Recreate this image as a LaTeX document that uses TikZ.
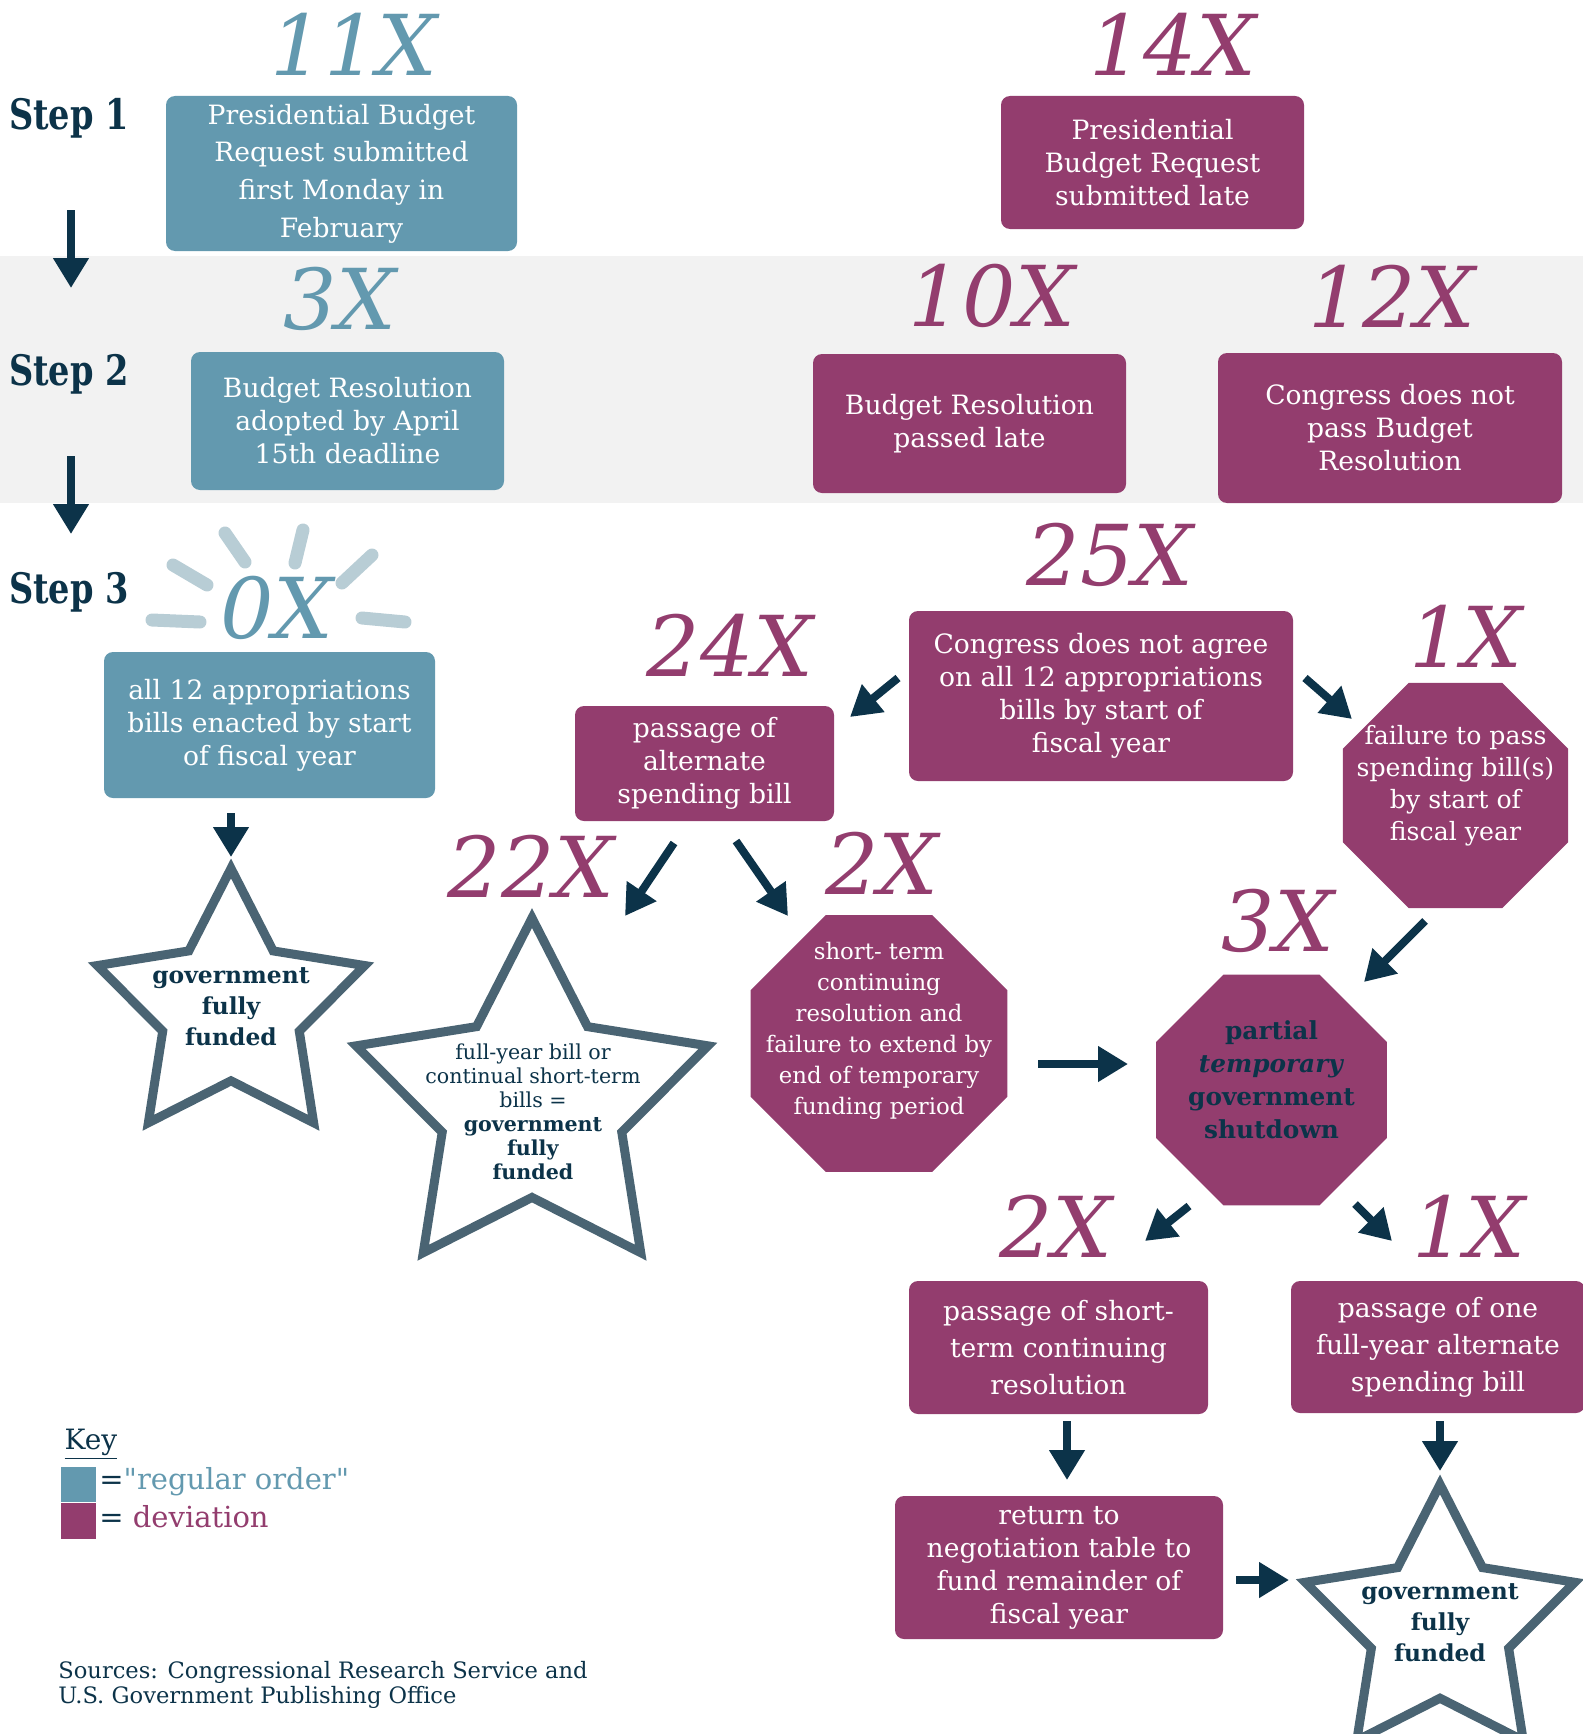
\documentclass[tikz,border=0pt]{standalone}
\usepackage{fontspec}
\setmainfont{DejaVu Serif}
\newfontfamily\condserif[FakeStretch=0.8]{DejaVu Serif}
\usetikzlibrary{arrows.meta,shapes.geometric}
\definecolor{regblue}{HTML}{6399AF}
\definecolor{devpurple}{HTML}{933D6E}
\definecolor{navy}{HTML}{0C3349}
\definecolor{starcol}{HTML}{4A6473}
\definecolor{bandgrey}{HTML}{F2F2F2}
\definecolor{raycol}{HTML}{B8CDD5}
\begin{document}
\begin{tikzpicture}[x=0.5pt,y=-0.5pt,
  box/.style={rectangle, rounded corners=4.5pt, text=white, align=center, inner sep=0pt, font=\fontsize{13.3}{16.5}\selectfont},
  bluebox/.style={box, fill=regblue},
  purplebox/.style={box, fill=devpurple},
  count/.style={font=\fontsize{42}{42}\selectfont\itshape, inner sep=0pt},
  bluecount/.style={count, text=regblue},
  purplecount/.style={count, text=devpurple},
  steplabel/.style={font=\condserif\bfseries\fontsize{21}{21}\selectfont, text=navy, inner sep=0pt},
  arr/.style={draw=navy, line width=4pt, -{Triangle[length=15pt,width=17pt]}},
  octa/.style={regular polygon, regular polygon sides=8, fill=devpurple, inner sep=0pt},
  octtext/.style={align=center, inner sep=0pt, text=white},
  starpath/.style={draw=starcol, line width=4.5pt, fill=white},
  startext/.style={align=center, text=navy, inner sep=0pt},
  rayline/.style={draw=raycol, line width=6.5pt, line cap=round},
]
\useasboundingbox (0,0) rectangle (1583,1734);
\clip (0,0) rectangle (1583,1734);
\fill[bandgrey] (0,255.5) rectangle (1583,503);

% step labels
\node[steplabel] (s1) at (69,118) {Step 1};
\node[steplabel] (s2) at (69,374) {Step 2};
\node[steplabel] (s3) at (69,592) {Step 3};
\coordinate (a1s) at (71,210); \coordinate (a1e) at (71,288);
\coordinate (a2s) at (71,456); \coordinate (a2e) at (71,534);
\draw[arr] (a1s) -- (a1e);
\draw[arr] (a2s) -- (a2e);

% step 1
\node[bluecount] (c11) at (354,44) {11X};
\node[bluebox, minimum width=175.5pt, minimum height=77.5pt, font=\fontsize{13.3}{18.8}\selectfont] (b1) at (341.5,173.5) {Presidential Budget\\Request submitted\\first Monday in\\February};
\node[purplecount] (c14) at (1173,44) {14X};
\node[purplebox, minimum width=151.5pt, minimum height=66.5pt] (b14) at (1152.5,162.5) {Presidential\\Budget Request\\submitted late};

% step 2
\node[bluecount] (c3) at (340,299) {3X};
\node[bluebox, minimum width=156.5pt, minimum height=69pt] (b3) at (347.5,421) {Budget Resolution\\adopted by April\\15th deadline};
\node[purplecount] (c10) at (992,296) {10X};
\node[purplebox, minimum width=156.5pt, minimum height=69.5pt] (b10) at (969.5,423.5) {Budget Resolution\\passed late};
\node[purplecount] (c12) at (1392,296) {12X};
\node[purplebox, minimum width=172pt, minimum height=75pt] (b12) at (1390,428) {Congress does not\\pass Budget\\Resolution};

% step 3 regular
\draw[rayline] (152,620) -- (200,622);
\draw[rayline] (173,565) -- (207,585);
\draw[rayline] (225,533) -- (245,562);
\draw[rayline] (303,530) -- (295,563);
\draw[rayline] (372,555) -- (342,583);
\draw[rayline] (362,618) -- (405,622);
\node[bluecount] (c0) at (277,608) {0X};
\node[bluebox, minimum width=165.5pt, minimum height=73pt] (b0) at (269.5,725) {all 12 appropriations\\bills enacted by start\\of fiscal year};
\begin{scope}[shift={(231,1009)}]
\draw[starpath] (90:70.3pt) \foreach \i in {1,...,9} {-- ({90+36*\i}:{mod(\i,2)==0 ? 70.3pt : 35.9pt})} -- cycle;
\end{scope}
\node[startext, font=\bfseries\fontsize{11.7}{15.5}\selectfont] (st1) at (231,1007) {government\\fully\\funded};
\coordinate (a3s) at (231,813); \coordinate (a3e) at (231,857);
\draw[arr] (a3s) -- (a3e);

% 25X branch
\node[purplecount] (c25) at (1110,555) {25X};
\node[purplebox, minimum width=192pt, minimum height=85pt] (b25) at (1101,696) {Congress does not agree\\on all 12 appropriations\\bills by start of\\fiscal year};
\node[purplecount] (c24) at (730,645) {24X};
\node[purplebox, minimum width=129.5pt, minimum height=57.5pt] (b24) at (704.5,763.5) {passage of\\alternate\\spending bill};
\node[purplecount] (c1a) at (1466,636) {1X};
\node[octa, minimum size=122pt] (o1) at (1455.5,795.5) {};
\node[octtext, font=\fontsize{12.6}{16}\selectfont] (o1t) at (1455.5,786) {failure to pass\\spending bill(s)\\by start of\\fiscal year};
\coordinate (a4s) at (898,678); \coordinate (a4e) at (850,717);
\coordinate (a5s) at (1305,678); \coordinate (a5e) at (1352,719);
\draw[arr] (a4s) -- (a4e);
\draw[arr] (a5s) -- (a5e);

\node[purplecount] (c22) at (531,866) {22X};
\node[purplecount] (c2a) at (882,863) {2X};
\coordinate (a6s) at (674,843); \coordinate (a6e) at (625,916);
\coordinate (a7s) at (736,841); \coordinate (a7e) at (788,916);
\draw[arr] (a6s) -- (a6e);
\draw[arr] (a7s) -- (a7e);

\begin{scope}[shift={(532,1103)}]
\draw[starpath] (90:92.5pt) \foreach \i in {1,...,9} {-- ({90+36*\i}:{mod(\i,2)==0 ? 92.5pt : 47.2pt})} -- cycle;
\end{scope}
\node[startext, font=\fontsize{10.3}{12}\selectfont] (st2) at (533,1112) {full-year bill or\\continual short-term\\bills =\\\textbf{government}\\\textbf{fully}\\\textbf{funded}};

\node[octa, minimum size=139pt] (o2) at (879,1043.5) {};
\node[octtext, font=\fontsize{11.4}{15.5}\selectfont] (o2t) at (879,1031) {short- term\\continuing\\resolution and\\failure to extend by\\end of temporary\\funding period};

\node[purplecount] (c3b) at (1278,921) {3X};
\node[octa, minimum size=125pt] (o3) at (1271.5,1090) {};
\node[startext, font=\bfseries\fontsize{12.4}{16.5}\selectfont] (o3t) at (1271.5,1080) {partial\\\textit{temporary}\\government\\shutdown};
\coordinate (a8s) at (1425,921); \coordinate (a8e) at (1364,982);
\coordinate (a9s) at (1038,1064); \coordinate (a9e) at (1128,1064);
\draw[arr] (a8s) -- (a8e);
\draw[arr] (a9s) -- (a9e);

\node[purplecount] (c2b) at (1056,1226) {2X};
\node[purplecount] (c1b) at (1469,1226) {1X};
\coordinate (a10s) at (1189,1206); \coordinate (a10e) at (1145,1241);
\coordinate (a11s) at (1355,1204); \coordinate (a11e) at (1392,1241);
\draw[arr] (a10s) -- (a10e);
\draw[arr] (a11s) -- (a11e);

\node[purplebox, minimum width=149.5pt, minimum height=66.5pt, font=\fontsize{13.3}{18.5}\selectfont] (bcr) at (1058.5,1347.5) {passage of short-\\term continuing\\resolution};
\node[purplebox, minimum width=147pt, minimum height=66pt, font=\fontsize{13.3}{18.5}\selectfont] (bone) at (1438,1347) {passage of one\\full-year alternate\\spending bill};
\node[purplebox, minimum width=164pt, minimum height=71.5pt] (bret) at (1059,1567.5) {return to\\negotiation table to\\fund remainder of\\fiscal year};
\coordinate (a12s) at (1067,1421); \coordinate (a12e) at (1067,1480);
\coordinate (a13s) at (1440,1421); \coordinate (a13e) at (1440,1471);
\coordinate (a14s) at (1236,1580); \coordinate (a14e) at (1289,1580);
\draw[arr] (a12s) -- (a12e);
\draw[arr] (a13s) -- (a13e);
\draw[arr] (a14s) -- (a14e);

\begin{scope}[shift={(1440,1626)}]
\draw[starpath] (90:70.8pt) \foreach \i in {1,...,9} {-- ({90+36*\i}:{mod(\i,2)==0 ? 70.8pt : 36.1pt})} -- cycle;
\end{scope}
\node[startext, font=\bfseries\fontsize{11.7}{15.5}\selectfont] (st3) at (1440,1623) {government\\fully\\funded};

% key
\node[text=navy, inner sep=0pt, font=\fontsize{14}{14}\selectfont] (key) at (91,1444) {\underline{Key}};
\node[fill=regblue, minimum width=17.5pt, minimum height=17.5pt, inner sep=0pt, anchor=north west] (kb) at (61,1467) {};
\node[fill=devpurple, minimum width=17.5pt, minimum height=18pt, inner sep=0pt, anchor=north west] (kp) at (61,1503) {};
\node[anchor=west, text=navy, inner sep=0pt, font=\fontsize{14.5}{14.5}\selectfont] (kbt) at (99,1482) {=\textcolor{regblue}{\textquotedbl regular order\textquotedbl}};
\node[anchor=west, text=navy, inner sep=0pt, font=\fontsize{14.5}{14.5}\selectfont] (kpt) at (99,1517) {= \textcolor{devpurple}{deviation}};

\node[anchor=west, align=left, text=navy, inner sep=0pt, font=\fontsize{11.3}{12.5}\selectfont] (src) at (58,1685) {Sources: Congressional Research Service and\\U.S. Government Publishing Office};
\end{tikzpicture}
\end{document}
